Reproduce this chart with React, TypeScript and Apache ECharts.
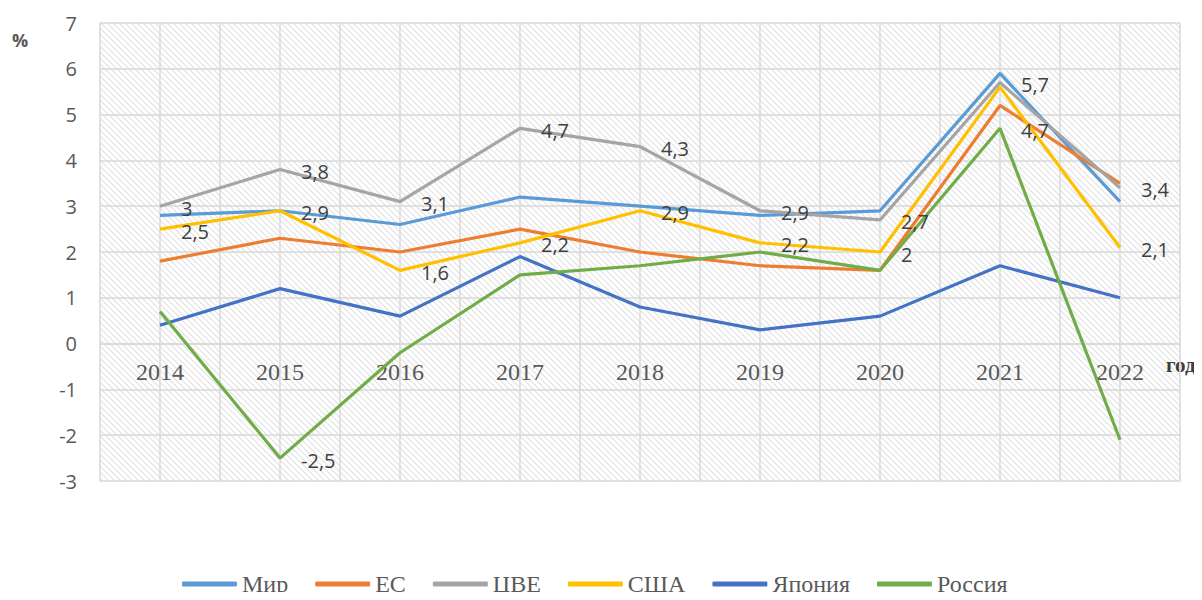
import React, { useEffect, useRef } from "react";
import * as echarts from "echarts";

const years = ["2014", "2015", "2016", "2017", "2018", "2019", "2020", "2021", "2022"];
const mir = [2.8, 2.9, 2.6, 3.2, 3.0, 2.8, 2.9, 5.9, 3.1];
const es = [1.8, 2.3, 2.0, 2.5, 2.0, 1.7, 1.6, 5.2, 3.5];
const cve = [3.0, 3.8, 3.1, 4.7, 4.3, 2.9, 2.7, 5.7, 3.4];
const usa = [2.5, 2.9, 1.6, 2.2, 2.9, 2.2, 2.0, 5.6, 2.1];
const japan = [0.4, 1.2, 0.6, 1.9, 0.8, 0.3, 0.6, 1.7, 1.0];
const russia = [0.7, -2.5, -0.2, 1.5, 1.7, 2.0, 1.6, 4.7, -2.1];
const yTicks = [-3, -2, -1, 0, 1, 2, 3, 4, 5, 6, 7];

// which points carry a value label
const cveLabeled = [0, 1, 2, 3, 4, 5, 6, 7, 8];
const usaLabeled = [0, 1, 2, 3, 4, 5, 6, 8];
const russiaLabeled = [1, 7];

const fmt = (v: number) => String(v).replace(".", ",");

const GRID_TOP = 23;
const GRID_BOTTOM = 119;
const CHART_H = 600;

function makeHatch() {
  const c = document.createElement("canvas");
  c.width = 6;
  c.height = 6;
  const ctx = c.getContext("2d")!;
  ctx.fillStyle = "#ffffff";
  ctx.fillRect(0, 0, 6, 6);
  ctx.strokeStyle = "#e0e0e0";
  ctx.lineWidth = 1.1;
  for (const k of [-6, 0, 6]) {
    ctx.beginPath();
    ctx.moveTo(k - 1, -1);
    ctx.lineTo(k + 7, 7);
    ctx.stroke();
  }
  return c;
}

export default function App() {
  const ref = useRef<HTMLDivElement>(null);
  useEffect(() => {
    const chart = echarts.init(ref.current!, undefined, { renderer: "svg" });
    const labelStyle = {
      show: true,
      position: "right" as const,
      distance: 21,
      offset: [0, 2],
      fontFamily: "Open Sans",
      fontSize: 20,
      lineHeight: 20,
      color: "#404040",
      formatter: (p: any) => fmt(p.value),
    };
    const withLabels = (vals: number[], idx: number[]) =>
      vals.map((v, i) => ({ value: v, label: { ...labelStyle, show: idx.includes(i) } }));
    const mk = (name: string, color: string, data: any) => ({
      name,
      type: "line",
      data,
      xAxisIndex: 0,
      yAxisIndex: 0,
      showSymbol: true,
      symbol: "circle",
      symbolSize: 0.01,
      lineStyle: { color, width: 3.2 },
      itemStyle: { color },
      label: { show: false },
      emphasis: { disabled: true },
      z: 3,
    });
    const hatch = makeHatch();
    const yMin = yTicks[0];
    const yMax = yTicks[yTicks.length - 1];
    const plotH = CHART_H - GRID_TOP - GRID_BOTTOM;
    // shift the category axis from the bottom edge up to the zero line
    const zeroOffset = -(plotH * (0 - yMin)) / (yMax - yMin);
    chart.setOption({
      animation: false,
      backgroundColor: "#ffffff",
      grid: {
        left: 100,
        right: 22,
        top: GRID_TOP,
        bottom: GRID_BOTTOM,
        show: true,
        borderWidth: 0,
        backgroundColor: { image: hatch, repeat: "repeat", imageWidth: 6, imageHeight: 6 } as any,
      },
      xAxis: [
        {
          type: "category",
          data: years,
          boundaryGap: true,
          position: "bottom",
          offset: zeroOffset,
          axisLine: { show: true, onZero: false, lineStyle: { color: "#d9d9d9", width: 1.5 } },
          axisTick: { show: false },
          axisLabel: {
            fontFamily: "Liberation Serif",
            fontSize: 24,
            color: "#595959",
            margin: 16,
          },
          splitLine: { show: false },
          z: 1,
        },
        {
          type: "value",
          min: 0,
          max: 18,
          interval: 1,
          position: "top",
          axisLine: { show: false, onZero: false },
          axisTick: { show: false },
          axisLabel: { show: false },
          splitLine: { show: true, lineStyle: { color: "#d9d9d9", width: 1.5 } },
        },
      ],
      yAxis: {
        type: "value",
        min: yMin,
        max: yMax,
        interval: 1,
        axisLine: { show: false, onZero: false },
        axisTick: { show: false },
        axisLabel: { fontFamily: "Open Sans", fontSize: 20, color: "#595959", margin: 23 },
        splitLine: { show: true, lineStyle: { color: "#d9d9d9", width: 1.5 } },
      },
      legend: {
        left: 177,
        top: 567,
        itemWidth: 55,
        itemHeight: 5,
        itemGap: 27,
        icon: "roundRect",
        textStyle: {
          fontFamily: "Liberation Serif",
          fontSize: 24,
          color: "#595959",
          padding: [0, 0, 6, 0],
        },
        data: ["Мир", "ЕС", "ЦВЕ", "США", "Япония", "Россия"],
      },
      graphic: [
        {
          type: "text",
          left: 12,
          top: 31,
          style: { text: "%", font: "bold 18px 'Open Sans'", fill: "#595959" },
        },
        {
          type: "text",
          left: 1166,
          top: 354,
          style: { text: "год", font: "bold 21px 'Liberation Serif'", fill: "#404040" },
        },
      ],
      series: [
        mk("Мир", "#5B9BD5", mir),
        mk("ЕС", "#ED7D31", es),
        mk("ЦВЕ", "#A5A5A5", withLabels(cve, cveLabeled)),
        mk("США", "#FFC000", withLabels(usa, usaLabeled)),
        mk("Япония", "#4472C4", japan),
        mk("Россия", "#70AD47", withLabels(russia, russiaLabeled)),
      ],
    });
    return () => chart.dispose();
  }, []);
  return <div ref={ref} style={{ width: 1202, height: 600, margin: -8 }} />;
}
